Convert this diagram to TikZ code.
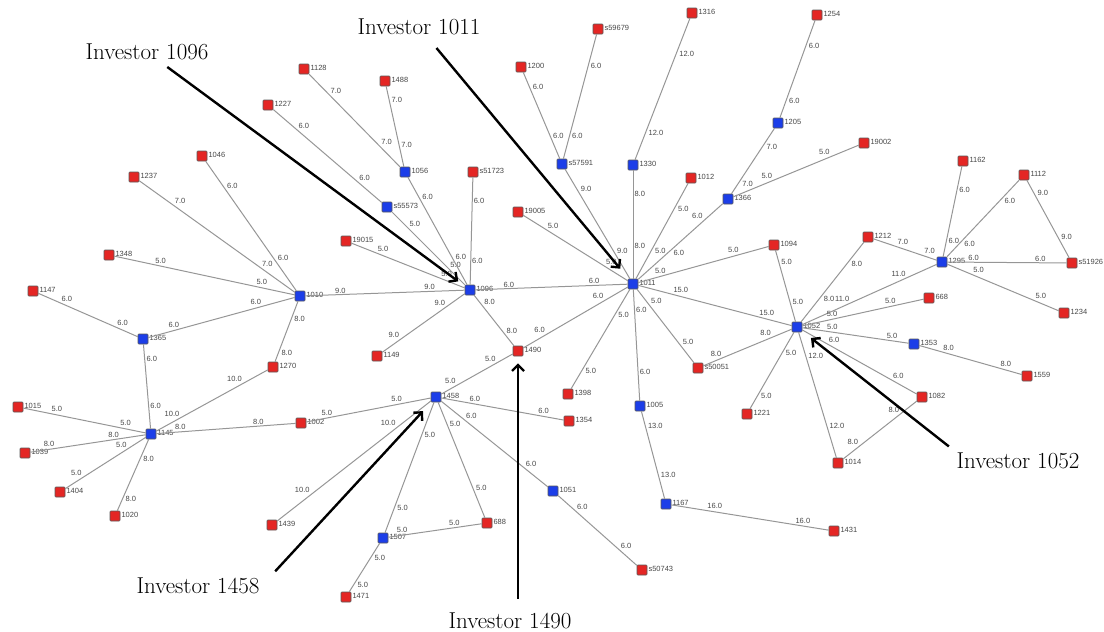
\documentclass[tikz,border=0pt]{standalone}
\usepackage{fontspec}
\newfontfamily\lblfont{Liberation Sans}
\usepackage{tikz}
\usetikzlibrary{arrows.meta}

\definecolor{nodered}{RGB}{228,38,36}
\definecolor{nodeblue}{RGB}{28,62,232}
\definecolor{linkgray}{RGB}{150,150,150}
\definecolor{txtgray}{RGB}{70,70,70}

\tikzset{
  sq/.style={draw=black!65, line width=0.6pt, minimum size=10pt, inner sep=0pt, rounded corners=0.8pt},
  rsq/.style={sq, fill=nodered},
  bsq/.style={sq, fill=nodeblue},
  nlbl/.style={font=\lblfont\fontsize{7.5}{8}\selectfont, text=txtgray, inner sep=1pt, yshift=1.5pt},
  link/.style={draw=linkgray, line width=1pt},
  wlbl/.style={font=\lblfont\fontsize{7.5}{8}\selectfont, text=txtgray, inner sep=1pt, auto},
  callout/.style={line width=2.4pt, -{Straight Barb[length=6pt,width=12pt]}, shorten >=8pt},
  invlbl/.style={font=\fontsize{23}{26}\selectfont, inner sep=2pt}
}

\begin{document}
\begin{tikzpicture}[x=1pt,y=-1pt]
\useasboundingbox (0,0) rectangle (1104,632);

  % blue nodes
  \foreach \n/\x/\y in {1096/470/290, 1011/633/284, 1052/797/327, 1458/436/397,
      1010/300/296, 1365/143/339, 1145/151/434, 1056/405/172, s55573/387/207,
      s57591/562/164, 1330/633/165, 1366/728/199, 1205/778/123, 1295/942/262,
      1353/914/344, 1005/640/406, 1167/666/504, 1051/553/491, 1507/383/538}
    \node[bsq, label={[nlbl]right:\n}] (n\n) at (\x,\y) {};

  % red nodes
  \foreach \n/\x/\y in {1490/518/351, 1128/304/69, 1488/385/81, 1227/268/105,
      1046/202/156, 1237/134/177, s51723/473/172, 19005/518/212, 19015/346/241,
      1348/109/255, 1147/33/291, 1149/377/356, 1270/273/367, 1015/18/407,
      1039/25/453, 1404/60/492, 1020/115/516, 1002/301/423, 1439/272/525,
      688/487/523, 1471/346/597, 1354/569/421, s50743/642/570, 1398/568/394,
      s50051/698/368, 1221/747/414, 1014/838/463, 1082/922/397, 1559/1027/376,
      1431/834/531, 1234/1064/313, 668/929/298, 1212/868/237, s51926/1072/263,
      1112/1024/175, 1162/963/161, 19002/864/143, 1254/817/15, 1094/774/245,
      1012/691/178, 1316/692/13, s59679/598/29, 1200/521/67}
    \node[rsq, label={[nlbl]right:\n}] (n\n) at (\x,\y) {};

  % weighted links
  \foreach \a/\b/\w in {1010/1096/9.0, 1096/1011/6.0, 1096/1490/8.0, 1149/1096/9.0,
      19015/1096/5.0, s55573/1096/5.0, 1056/1096/6.0, s51723/1096/6.0,
      1128/1056/7.0, 1488/1056/7.0, 1227/s55573/6.0,
      1046/1010/6.0, 1237/1010/7.0, 1348/1010/5.0, 1365/1010/6.0, 1010/1270/8.0,
      1147/1365/6.0, 1365/1145/6.0,
      1015/1145/5.0, 1039/1145/8.0, 1404/1145/5.0, 1145/1020/8.0, 1145/1002/8.0,
      1145/1270/10.0,
      1002/1458/5.0, 1458/1490/5.0, 1458/1354/6.0, 1458/1051/6.0, 1439/1458/10.0,
      1458/1507/5.0, 1458/688/5.0, 1507/688/5.0, 1507/1471/5.0, 1051/s50743/6.0,
      1490/1011/6.0, 19005/1011/5.0, s57591/1011/9.0,
      1011/1094/5.0, 1011/1052/15.0, 1011/s50051/5.0,
      1011/1005/6.0, 1011/1398/5.0,
      1200/s57591/6.0, s59679/s57591/6.0, 1316/1330/12.0, 1205/1366/7.0,
      1254/1205/6.0, 1005/1167/13.0, 1167/1431/16.0,
      1094/1052/5.0, 1052/1353/5.0,
      1052/1082/6.0, 1052/1014/12.0, 1052/1221/5.0, s50051/1052/8.0,
      1014/1082/8.0, 1353/1559/8.0,
      1162/1295/6.0, 1112/1295/6.0, 1295/s51926/6.0,
      1295/1234/5.0, 1112/s51926/9.0}
    \draw[link] (n\a) -- node[wlbl, pos=.22] {\w} node[wlbl, pos=.78] {\w} (n\b);

  % crowded ends
  \foreach \a/\b/\w/\p/\q in {1330/1011/8.0/.22/.70, 1012/1011/5.0/.22/.66,
      1366/19002/5.0/.32/.78, 1212/1052/8.0/.22/.66, 1212/1295/7.0/.36/.78,
      1052/1295/11.0/.36/.78, 1052/668/5.0/.30/.78}
    \draw[link] (n\a) -- node[wlbl, pos=\p] {\w} node[wlbl, pos=\q] {\w} (n\b);
  \draw[link] (n1011) -- node[wlbl, swap, pos=.4] {6.0} node[wlbl, pos=.78] {6.0} (n1366);

  % investor callouts
  \node[invlbl] (inv1096) at (147,52) {Investor 1096};
  \node[invlbl] (inv1011) at (419,27) {Investor 1011};
  \node[invlbl] (inv1052) at (1018,461) {Investor 1052};
  \node[invlbl] (inv1458) at (198,586) {Investor 1458};
  \node[invlbl] (inv1490) at (510,621) {Investor 1490};

  \draw[callout, shorten <=8pt] (inv1096) -- (n1096);
  \draw[callout, shorten <=14pt, shorten >=13pt] (inv1011) -- (n1011);
  \draw[callout, shorten <=7pt, shorten >=11pt] (inv1052.north west) -- (n1052);
  \draw[callout, shorten <=20pt, shorten >=12pt] (inv1458.east) -- (n1458);
  \draw[callout, shorten <=12pt, shorten >=7pt] (inv1490.north -| n1490) -- (n1490);

\end{tikzpicture}
\end{document}
